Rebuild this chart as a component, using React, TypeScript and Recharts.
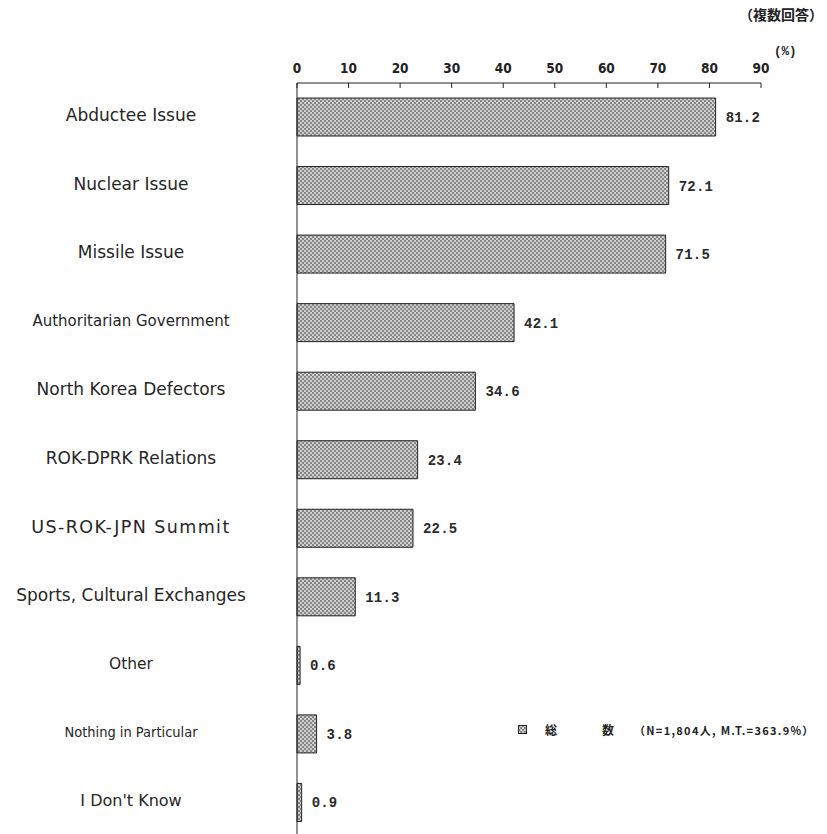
import React from 'react';
import { BarChart, Bar, XAxis, YAxis, LabelList } from 'recharts';

// survey items, top to bottom
const items = [
  'Abductee Issue',
  'Nuclear Issue',
  'Missile Issue',
  'Authoritarian Government',
  'North Korea Defectors',
  'ROK-DPRK Relations',
  'US-ROK-JPN Summit',
  'Sports, Cultural Exchanges',
  'Other',
  'Nothing in Particular',
  "I Don't Know",
];

// percent of respondents (multiple answers allowed)
const totals = [81.2, 72.1, 71.5, 42.1, 34.6, 23.4, 22.5, 11.3, 0.6, 3.8, 0.9];

const percentTicks = [0, 10, 20, 30, 40, 50, 60, 70, 80, 90];

const sampleNote = '（N=1,804人, M.T.=363.9%）';

const rows = items.map((name, i) => ({ name, total: totals[i] }));

const LABEL_FONT = "'DejaVu Sans', Verdana, sans-serif";
const MONO_FONT = "'Liberation Mono', 'DejaVu Sans Mono', monospace";
const JP_FONT = "'Noto Sans CJK JP', sans-serif";

// a few category labels are set smaller / condensed
const labelOverrides: Record<string, React.CSSProperties> = {
  'Authoritarian Government': { fontSize: 15 },
  Other: { fontSize: 15.5 },
  "I Don't Know": { fontSize: 16 },
  'Nothing in Particular': { fontSize: 14.5, fontFamily: "'DejaVu Sans Condensed', 'Liberation Sans Narrow', sans-serif" },
  'US-ROK-JPN Summit': { fontSize: 17.5, letterSpacing: 1.4 },
};

const CategoryTick = (props: any) => {
  const { y, payload } = props;
  const extra = labelOverrides[payload.value] || {};
  return (
    <text
      x={131}
      y={y - 2}
      textAnchor="middle"
      dominantBaseline="central"
      fill="#262626"
      style={{ fontFamily: LABEL_FONT, fontSize: 17, ...extra }}
    >
      {payload.value}
    </text>
  );
};

const PercentTick = (props: any) => {
  const { x, y, payload } = props;
  return (
    <text
      x={x}
      y={y}
      textAnchor="middle"
      fill="#222"
      style={{
        fontFamily: "'Liberation Sans Narrow', 'DejaVu Sans Condensed', sans-serif",
        fontSize: 13.5,
        fontWeight: 'bold',
      }}
    >
      {payload.value}
    </text>
  );
};

export default function App() {
  return (
    <div
      style={{
        position: 'absolute',
        left: 0,
        top: 0,
        width: 827,
        height: 834,
        overflow: 'hidden',
        background: '#fff',
      }}
    >
      <div
        style={{
          position: 'absolute',
          left: 739,
          top: 4,
          fontFamily: JP_FONT,
          fontSize: 14,
          fontWeight: 'bold',
          color: '#222',
          whiteSpace: 'nowrap',
        }}
      >
        （複数回答）
      </div>
      <div
        style={{
          position: 'absolute',
          left: 774,
          top: 45,
          fontFamily: MONO_FONT,
          fontSize: 12.5,
          fontWeight: 'bold',
          color: '#222',
        }}
      >
        (%)
      </div>

      <BarChart
        width={827}
        height={840}
        data={rows}
        layout="vertical"
        margin={{ top: 53, right: 66, bottom: 3, left: 0 }}
        barSize={38}
      >
        <defs>
          <pattern id="checker" width={4} height={4} patternUnits="userSpaceOnUse">
            <rect width={4} height={4} fill="#cfcfcf" />
            <rect x={0} y={0} width={2} height={2} fill="#858585" />
            <rect x={2} y={2} width={2} height={2} fill="#858585" />
          </pattern>
        </defs>
        <XAxis
          type="number"
          orientation="top"
          domain={[0, 90]}
          ticks={percentTicks}
          height={30}
          tickSize={-5}
          tickMargin={15}
          axisLine={{ stroke: '#222' }}
          tickLine={{ stroke: '#222' }}
          tick={<PercentTick />}
          interval={0}
        />
        <YAxis
          type="category"
          dataKey="name"
          width={297}
          axisLine={{ stroke: '#222' }}
          tickLine={false}
          tick={<CategoryTick />}
          interval={0}
        />
        <Bar dataKey="total" fill="url(#checker)" stroke="#222" strokeWidth={1} isAnimationActive={false}>
          <LabelList
            dataKey="total"
            position="right"
            offset={10}
            formatter={(v: any) => Number(v).toFixed(1)}
            fill="#2a2a2a"
            style={{ fontFamily: MONO_FONT, fontSize: 14, fontWeight: 'bold', letterSpacing: 0.2 }}
          />
        </Bar>
      </BarChart>

      <div
        style={{
          position: 'absolute',
          left: 518,
          top: 721,
          display: 'flex',
          alignItems: 'center',
          fontFamily: JP_FONT,
          fontSize: 11,
          fontWeight: 'bold',
          color: '#222',
          whiteSpace: 'nowrap',
        }}
      >
        <svg width={9} height={9} style={{ marginRight: 18 }}>
          <rect x={0.5} y={0.5} width={8} height={8} fill="url(#checker)" stroke="#222" />
        </svg>
        <span style={{ fontSize: 12 }}>総</span>
        <span style={{ fontSize: 12, marginLeft: 45 }}>数</span>
        <span style={{ marginLeft: 20, letterSpacing: 1.3 }}>{sampleNote}</span>
      </div>
    </div>
  );
}
